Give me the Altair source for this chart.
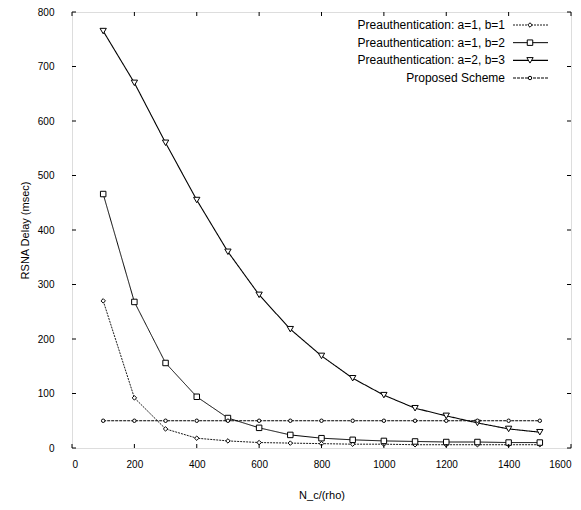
import altair as alt
import pandas as pd

x_vals = [100, 200, 300, 400, 500, 600, 700, 800, 900, 1000, 1100, 1200, 1300, 1400, 1500]
pre_a1_b1 = [270, 92, 35, 18, 13, 10, 9, 8, 7, 7, 6, 6, 6, 6, 6]
pre_a1_b2 = [466, 268, 156, 94, 55, 37, 24, 18, 15, 13, 12, 11, 11, 10, 10]
pre_a2_b3 = [765, 670, 560, 455, 360, 281, 218, 169, 128, 97, 73, 59, 46, 35, 29]
proposed = [50, 50, 50, 50, 50, 50, 50, 50, 50, 50, 50, 50, 50, 50, 50]

series_names = ["Preauthentication: a=1, b=1", "Preauthentication: a=1, b=2",
                "Preauthentication: a=2, b=3", "Proposed Scheme"]
x_ticks = [0, 200, 400, 600, 800, 1000, 1200, 1400, 1600]
y_ticks = [0, 100, 200, 300, 400, 500, 600, 700, 800]

rows = []
for name, ys in zip(series_names, [pre_a1_b1, pre_a1_b2, pre_a2_b3, proposed]):
    for xv, yv in zip(x_vals, ys):
        rows.append({"series": name, "x": xv, "y": yv})
df = pd.DataFrame(rows)
leg = pd.DataFrame({"series": series_names, "idx": list(range(len(series_names)))})
xt = pd.DataFrame({"t": x_ticks})
yt = pd.DataFrame({"t": y_ticks})

W, H = 499, 436
FONT = "Liberation Sans"
marker_shapes = ["diamond", "square", "triangle-down", "circle"]
marker_sizes = [20, 30, 40, 12]
dashes = alt.Scale(domain=series_names, range=[[2, 1], [1, 0], [1, 0], [3, 1]])
widths = alt.Scale(domain=series_names, range=[0.9, 1.2, 1.2, 0.9])

xs = alt.Scale(domain=[0, 1600], nice=False)
ys = alt.Scale(domain=[0, 800], nice=False)
ly = alt.Y("idx:Q", scale=alt.Scale(domain=[0, 3], range=[13, 66]), axis=None)

lines = alt.Chart(df).mark_line(color="black").encode(
    x=alt.X("x:Q", scale=xs, title="N_c/(rho)",
            axis=alt.Axis(values=x_ticks, format="d", grid=False, domain=False, ticks=False,
                          labelPadding=11, titlePadding=20, titleFontWeight="normal")),
    y=alt.Y("y:Q", scale=ys, title="RSNA Delay (msec)",
            axis=alt.Axis(values=y_ticks, format="d", grid=False, domain=False, ticks=False,
                          labelPadding=18, titlePadding=7, titleFontWeight="normal")),
    detail="series:N",
    strokeDash=alt.StrokeDash("series:N", scale=dashes, legend=None),
    strokeWidth=alt.StrokeWidth("series:N", scale=widths, legend=None),
)

point_layers = []
legend_point_layers = []
for name, shp, sz in zip(series_names, marker_shapes, marker_sizes):
    point_layers.append(
        alt.Chart(df).transform_filter(alt.datum.series == name).mark_point(
            color="black", filled=False, strokeWidth=1, fill="white", fillOpacity=1,
            shape=shp, size=sz).encode(
            x=alt.X("x:Q", scale=xs),
            y=alt.Y("y:Q", scale=ys, axis=None)))
    legend_point_layers.append(
        alt.Chart(leg).transform_filter(alt.datum.series == name).mark_point(
            color="black", filled=False, strokeWidth=1, fill="white", fillOpacity=1,
            shape=shp, size=sz).encode(x=alt.value(458), y=ly))

tick_color = "black"
xtick_b = alt.Chart(xt).mark_rule(color=tick_color).encode(
    x=alt.X("t:Q", scale=xs), y=alt.value(H), y2=alt.value(H - 4))
xtick_t = alt.Chart(xt).mark_rule(color=tick_color).encode(
    x=alt.X("t:Q", scale=xs), y=alt.value(0), y2=alt.value(4))
ytick_l = alt.Chart(yt).mark_rule(color=tick_color).encode(
    y=alt.Y("t:Q", scale=ys, axis=None), x=alt.value(0), x2=alt.value(4))
ytick_r = alt.Chart(yt).mark_rule(color=tick_color).encode(
    y=alt.Y("t:Q", scale=ys, axis=None), x=alt.value(W), x2=alt.value(W - 4))

leg_text = alt.Chart(leg).mark_text(align="right", baseline="middle", font=FONT,
                                    fontSize=12, color="black").encode(
    x=alt.value(433), y=ly, text="series:N")
leg_line = alt.Chart(leg).mark_rule(color="black").encode(
    x=alt.value(441), x2=alt.value(476), y=ly,
    strokeDash=alt.StrokeDash("series:N", scale=dashes, legend=None),
    strokeWidth=alt.StrokeWidth("series:N", scale=widths, legend=None))

chart = alt.layer(
    lines, *point_layers, xtick_b, xtick_t, ytick_l, ytick_r, leg_text, leg_line,
    *legend_point_layers
).resolve_scale(y="independent").properties(
    width=W, height=H,
    autosize=alt.AutoSizeParams(type="none"),
    padding={"left": 64, "top": 4, "right": 2, "bottom": 54},
).configure_view(
    stroke="black", strokeWidth=1.5
).configure_axis(
    labelFont=FONT, titleFont=FONT, labelFontSize=11, titleFontSize=11,
    labelColor="black", titleColor="black", titleFontWeight="normal"
).configure(background="white")

chart.save("out.html", embed_options={"renderer": "svg", "actions": False})
